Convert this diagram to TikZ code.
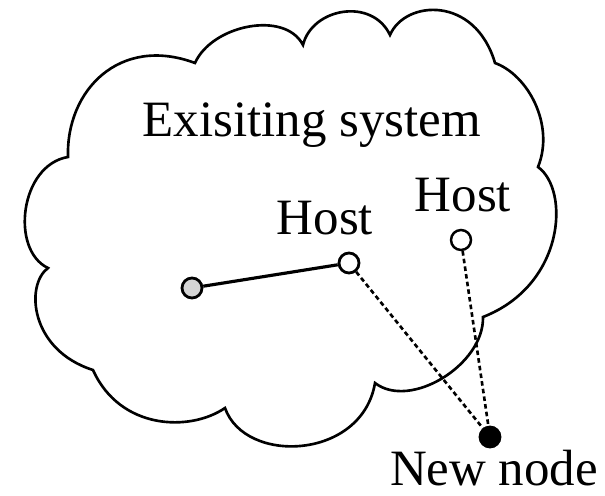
\documentclass[tikz,border=0pt]{standalone}
\usepackage{fontspec}
\setmainfont{Liberation Serif}
\usetikzlibrary{positioning}
\definecolor{nodeGrey}{HTML}{D4D4D4}

\begin{document}
\begin{tikzpicture}[x=0.02cm, y=-0.02cm,
    font=\fontsize{29}{34}\selectfont,
    host/.style={circle, draw, line width=1.6pt, fill=white, inner sep=0pt, minimum size=0.4cm},
    link/.style={line width=1.5pt, dash pattern=on 2.6pt off 1.8pt}]
  \useasboundingbox (0,0) rectangle (605,496);

  % cloud
  \draw[line width=1.5pt]
    (68,157) .. controls (66,90) and (120,35) .. (195,63)
    .. controls (212,25) and (285,10) .. (303,45)
    .. controls (312,8) and (372,-3) .. (390,35)
    .. controls (405,0) and (475,-5) .. (495,63)
    .. controls (528,75) and (555,125) .. (538,167)
    .. controls (570,190) and (565,285) .. (483,317)
    .. controls (484,365) and (410,410) .. (375,383)
    .. controls (362,460) and (245,465) .. (225,408)
    .. controls (190,432) and (120,430) .. (93,370)
    .. controls (30,350) and (25,285) .. (48,268)
    .. controls (10,250) and (20,165) .. (68,157) -- cycle;

  \node[anchor=base] (sys) at (312,137) {Exisiting system};

  \node[host, fill=nodeGrey] (src) at (192,288) {};
  \node[host] (h1) at (349,263) {};
  \node[host, line width=1.4pt] (h2) at (461,240) {};
  \node[host, fill=black] (new) at (490,437) {};

  \node[anchor=base] (h1lbl) at (325,235) {Host};
  \node[anchor=base] (h2lbl) at (463,212) {Host};
  \node[anchor=base] (newlbl) at (494,485) {New node};

  \draw[line width=1.8pt] (src) -- (h1);
  \draw[link] (h1) -- (new);
  \draw[link] (h2) -- (new);
\end{tikzpicture}
\end{document}
